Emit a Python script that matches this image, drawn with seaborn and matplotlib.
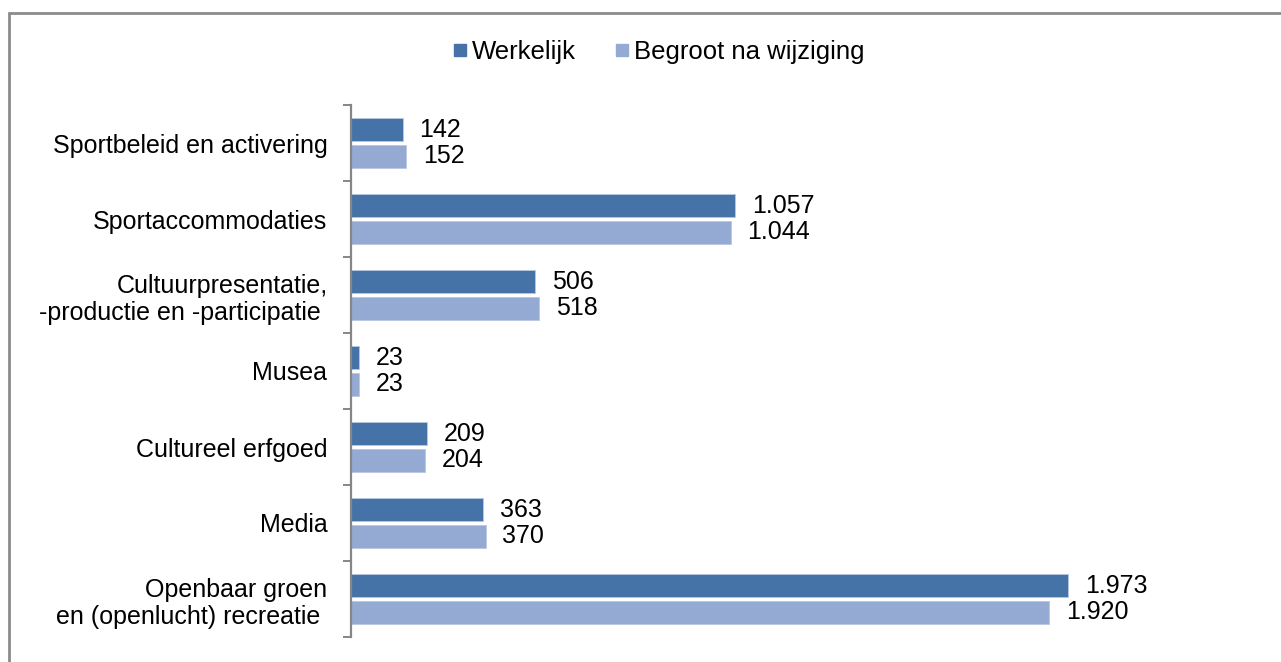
import pandas as pd
import matplotlib
matplotlib.use('Agg')
import matplotlib.pyplot as plt
import seaborn as sns
from matplotlib.lines import Line2D

categories = ['Sportbeleid en activering', 'Sportaccommodaties',
              'Cultuurpresentatie,\n-productie en -participatie ', 'Musea',
              'Cultureel erfgoed', 'Media',
              'Openbaar groen\nen (openlucht) recreatie ']
werkelijk = [142, 1057, 506, 23, 209, 363, 1973]
begroot = [152, 1044, 518, 23, 204, 370, 1920]
series = ['Werkelijk', 'Begroot na wijziging']
colors = ['#4673A7', '#95AAD3']

df = pd.DataFrame({
    'cat': categories * 2,
    'waarde': werkelijk + begroot,
    'reeks': [series[0]] * len(categories) + [series[1]] * len(categories),
})

sns.set_style('white')
plt.rcParams['font.family'] = ['Liberation Sans', 'DejaVu Sans']
plt.rcParams['text.color'] = 'black'

fig = plt.figure(figsize=(12.81, 6.62), dpi=100)
ax = fig.add_axes([351 / 1281, 25 / 662, 909 / 1281, 532 / 662])

sns.barplot(data=df, y='cat', x='waarde', hue='reeks', order=categories,
            hue_order=series, palette=colors, saturation=1, orient='h',
            width=0.70, gap=0.15, edgecolor='#B8C8E0', linewidth=0.6,
            ax=ax, legend=False)

# waardelabels
fmt = lambda v: f'{v:,}'.replace(',', '.')
for cont in ax.containers:
    ax.bar_label(cont, labels=[fmt(int(b.get_width())) for b in cont],
                 padding=12, fontsize=18, color='black')

ax.set_xlim(0, 2500)
ax.set_ylim(len(categories) - 0.5, -0.5)
ax.set_xlabel('')
ax.set_ylabel('')
ax.set_xticks([])

for s in ['top', 'right', 'bottom']:
    ax.spines[s].set_visible(False)
ax.spines['left'].set_color('#868686')
ax.spines['left'].set_linewidth(1.6)

ax.set_yticks(range(len(categories)))
ax.set_yticklabels(categories, fontsize=18, ha='right', multialignment='right',
                   color='black')
ax.tick_params(axis='y', which='major', left=False, length=0, pad=17)
ax.set_yticks([i - 0.5 for i in range(len(categories) + 1)], minor=True)
ax.tick_params(axis='y', which='minor', left=True, length=6, width=1.4,
               color='#868686', direction='out')

# legenda
handles = [Line2D([], [], marker='s', linestyle='', markersize=8.5,
                  markerfacecolor=c, markeredgecolor=c) for c in colors]
fig.legend(handles, series, loc='center', bbox_to_anchor=(657 / 1281, 1 - 52 / 662),
           ncol=2, frameon=False, fontsize=18.5, handletextpad=0.05,
           columnspacing=1.4, handlelength=0.8)

# rand
fig.add_artist(Line2D([9 / 1281, 9 / 1281], [0, 1 - 13 / 662], color='#8C8C8C', lw=2,
                      transform=fig.transFigure))
fig.add_artist(Line2D([9 / 1281, 1], [1 - 13 / 662, 1 - 13 / 662], color='#8C8C8C', lw=2,
                      transform=fig.transFigure))

fig.savefig('out.png', dpi=100)
